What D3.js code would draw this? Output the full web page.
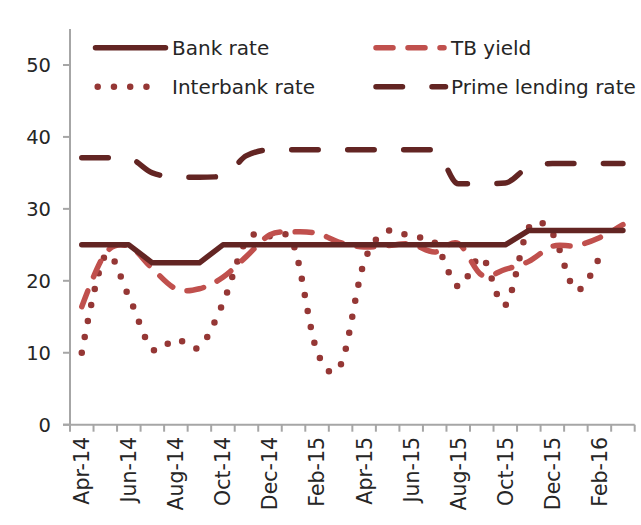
<!DOCTYPE html>
<html>
<head>
<meta charset="utf-8">
<script src="https://cdn.jsdelivr.net/npm/d3@7"></script>
<style>
  html, body { margin: 0; padding: 0; background: #ffffff; }
  svg { display: block; }
  text { font-family: "DejaVu Sans", sans-serif; fill: #262626; }
</style>
</head>
<body>
<svg id="chart" width="641" height="525"></svg>
<script>
// ---- data (monthly, Apr-14 .. Mar-16) ----
const months = ["Apr-14","May-14","Jun-14","Jul-14","Aug-14","Sep-14","Oct-14","Nov-14","Dec-14",
  "Jan-15","Feb-15","Mar-15","Apr-15","May-15","Jun-15","Jul-15","Aug-15","Sep-15","Oct-15",
  "Nov-15","Dec-15","Jan-16","Feb-16","Mar-16"];
const tickLabels = ["Apr-14","Jun-14","Aug-14","Oct-14","Dec-14","Feb-15","Apr-15","Jun-15",
  "Aug-15","Oct-15","Dec-15","Feb-16"];
const bankRate = [25,25,25,22.5,22.5,22.5,25,25,25,25,25,25,25,25,25,25,25,25,25,27,27,27,27,27];
const tbYield = [16.4,23.8,24.8,21.7,18.9,18.9,20.5,23.4,26.4,26.8,26.6,25.3,24.7,24.9,25.1,24.0,
  25.2,20.8,21.6,22.7,24.8,24.9,26.0,27.8];
const interbankRate = [10.0,23.5,17.8,10.5,11.9,10.8,16.9,25.6,26.2,25.0,10.2,8.3,22.6,26.9,26.1,25.3,
  19.2,23.3,16.6,27.4,26.6,18.7,23.3,null];
const primeLendingRate = [37.1,37.1,37.0,35.0,34.4,34.4,34.5,37.4,38.2,38.2,38.2,38.2,38.2,38.2,38.2,38.2,
  33.5,33.5,33.6,35.8,36.3,36.3,36.3,36.3];
const yTicks = [0,10,20,30,40,50];

const svg = d3.select("#chart");
const mLeft = 70, mRight = 634.7, mTop = 29, mBottom = 424.7;

const x = d3.scaleLinear().domain([0, months.length]).range([mLeft, mRight]);
const y = d3.scaleLinear().domain([0, 55]).range([mBottom, mTop]);
const xc = i => x(i + 0.5);

const axisColor = "#a6a6a6";

// y axis
svg.append("line").attr("x1", mLeft).attr("x2", mLeft).attr("y1", y(55)).attr("y2", y(0))
  .attr("stroke", axisColor).attr("stroke-width", 2);
yTicks.forEach(t => {
  svg.append("line").attr("x1", mLeft - 7).attr("x2", mLeft).attr("y1", y(t)).attr("y2", y(t))
    .attr("stroke", axisColor).attr("stroke-width", 2);
  svg.append("text").attr("x", 51).attr("y", y(t)).attr("dy", "0.36em")
    .attr("text-anchor", "end").attr("font-size", "19.5px").text(t);
});

// x axis
svg.append("line").attr("x1", mLeft - 7).attr("x2", mRight).attr("y1", y(0)).attr("y2", y(0))
  .attr("stroke", axisColor).attr("stroke-width", 2);
d3.range(months.length + 1).forEach(i => {
  svg.append("line").attr("x1", x(i)).attr("x2", x(i)).attr("y1", y(0)).attr("y2", y(0) + 7)
    .attr("stroke", axisColor).attr("stroke-width", 2);
});
tickLabels.forEach(lab => {
  const i = months.indexOf(lab);
  svg.append("text")
    .attr("transform", `translate(${xc(i)},437) rotate(-90)`)
    .attr("text-anchor", "end").attr("dy", "0.36em")
    .attr("font-size", "20.5px").text(lab);
});

// series
const mkLine = curve => d3.line()
  .defined(d => d != null)
  .x((d, i) => xc(i))
  .y(d => y(d))
  .curve(curve);

const series = [
  {name: "Prime lending rate", data: primeLendingRate, color: "#632523", dash: "26.5 29.5", w: 5.5, curve: d3.curveMonotoneX},
  {name: "Interbank rate", data: interbankRate, color: "#953735", dash: "0 16.25", w: 6.5, curve: d3.curveCardinal.tension(0)},
  {name: "TB yield", data: tbYield, color: "#c0504d", dash: "17 15", w: 5.5, curve: d3.curveCardinal.tension(0)},
  {name: "Bank rate", data: bankRate, color: "#632523", dash: null, w: 5.5, curve: d3.curveLinear}
];

series.forEach(s => {
  svg.append("path")
    .attr("d", mkLine(s.curve)(s.data))
    .attr("fill", "none")
    .attr("stroke", s.color)
    .attr("stroke-width", s.w)
    .attr("stroke-linecap", "round")
    .attr("stroke-linejoin", "round")
    .attr("stroke-dasharray", s.dash);
});

// legend
const legend = [
  {name: "Bank rate", x1: 95.5, x2: 165.5, y: 47.7, tx: 172, ty: 55, s: series[3]},
  {name: "Interbank rate", x1: 97.7, x2: 162.7, y: 86.7, tx: 172, ty: 94, s: series[1]},
  {name: "TB yield", x1: 376, x2: 444, y: 47.7, tx: 451, ty: 55, s: series[2]},
  {name: "Prime lending rate", x1: 376, x2: 445.5, y: 86.7, tx: 451, ty: 94, s: series[0]}
];
legend.forEach(l => {
  svg.append("line").attr("x1", l.x1).attr("x2", l.x2).attr("y1", l.y).attr("y2", l.y)
    .attr("stroke", l.s.color).attr("stroke-width", l.s.w)
    .attr("stroke-linecap", "round").attr("stroke-dasharray", l.s.dash);
  svg.append("text").attr("x", l.tx).attr("y", l.ty).attr("font-size", "20px").text(l.name);
});
</script>
</body>
</html>
